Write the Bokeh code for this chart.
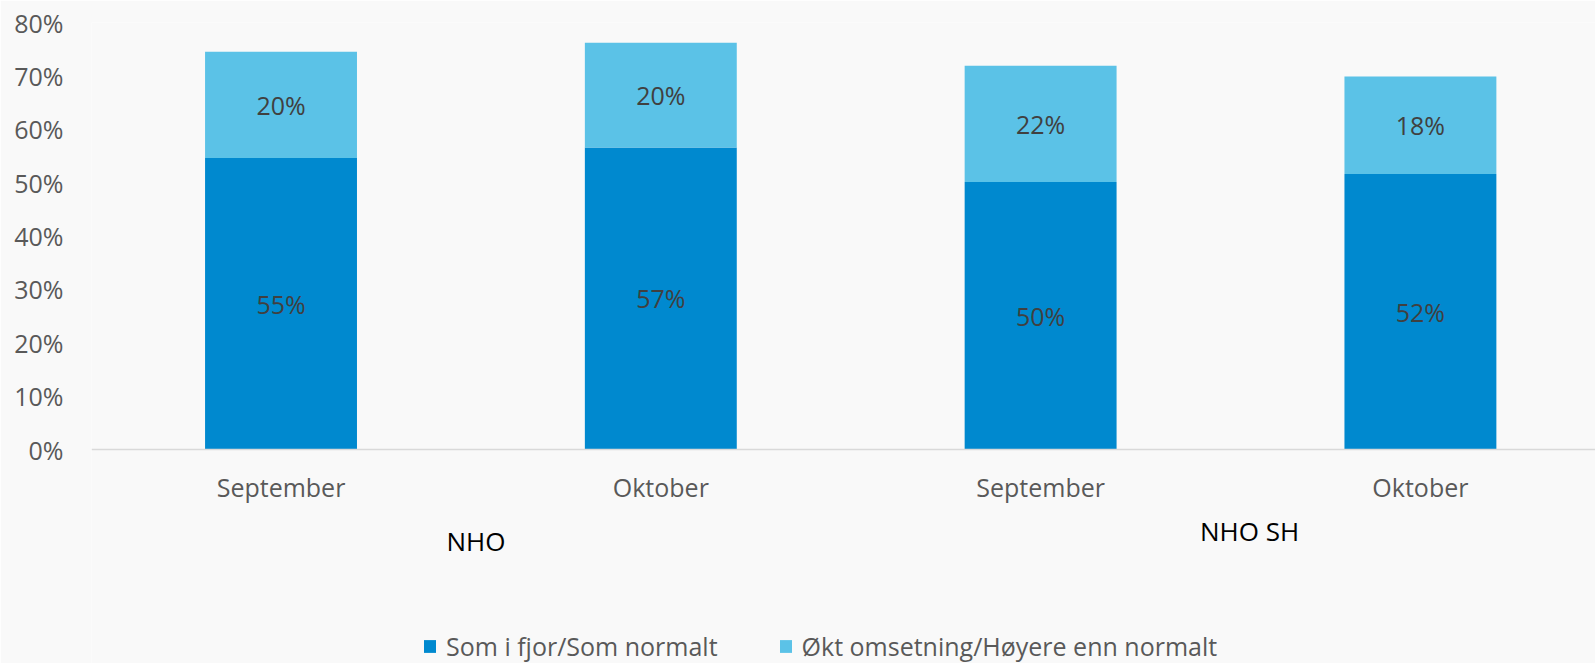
from bokeh.plotting import figure
from bokeh.models import (Range1d, FixedTicker, PrintfTickFormatter, Legend, LegendItem,
                          ColumnDataSource)
from bokeh.embed import file_html
from bokeh.resources import INLINE
from bokeh.core.properties import value

# ---------------- data ----------------
months = ["September", "Oktober", "September", "Oktober"]
groups = ["NHO", "NHO SH"]
group_index = [0, 0, 1, 1]
series_names = ["Som i fjor/Som normalt", "Økt omsetning/Høyere enn normalt"]
som_normalt = [54.6, 56.6, 50.1, 51.6]
hoyere = [19.9, 19.6, 21.8, 18.3]
y_ticks = [0, 10, 20, 30, 40, 50, 60, 70, 80]

# ---------------- style ----------------
FONT = "Open Sans"
BG = "#f9f9f9"
C1 = "#0089cf"
C2 = "#5bc2e7"
TICK_COLOR = "#595959"
LABEL_COLOR = "#404040"
GROUP_X_OFFSETS = [5, 19]     # px
GROUP_Y_OFFSETS = [91, 81]    # px below the zero line

xs = list(range(len(months)))
tops2 = [a + b for a, b in zip(som_normalt, hoyere)]

src = ColumnDataSource(dict(
    x=xs,
    b1=[0] * len(xs), t1=som_normalt,
    b2=som_normalt, t2=tops2,
    y1=[v / 2 for v in som_normalt],
    y2=[a + b / 2 for a, b in zip(som_normalt, hoyere)],
    l1=[f"{int(v + 0.5)}%" for v in som_normalt],
    l2=[f"{int(v + 0.5)}%" for v in hoyere],
))

# frame runs from the 80% line down to the bottom of the canvas;
# the part below 0 holds the category labels and the legend
p = figure(width=1595, height=663, output_backend="svg", toolbar_location=None,
           x_range=Range1d(-0.499, 3.461), y_range=Range1d(-40.09, 80),
           min_border_left=91, min_border_right=0, min_border_top=22, min_border_bottom=0,
           background_fill_color=BG, border_fill_color=BG, outline_line_color=None)

r1 = p.vbar(x="x", bottom="b1", top="t1", width=0.4, source=src,
            fill_color=C1, line_color=None)
r2 = p.vbar(x="x", bottom="b2", top="t2", width=0.4, source=src,
            fill_color=C2, line_color=None)

p.text(x="x", y="y1", text="l1", source=src, text_align="center", text_baseline="middle",
       text_font=value(FONT), text_font_size="25px", text_color=LABEL_COLOR)
p.text(x="x", y="y2", text="l2", source=src, text_align="center", text_baseline="middle",
       text_font=value(FONT), text_font_size="25px", text_color=LABEL_COLOR)

p.xgrid.visible = False
p.ygrid.visible = False

xa = p.xaxis[0]
xa.fixed_location = 0
xa.ticker = FixedTicker(ticks=xs)
xa.major_label_overrides = {i: m for i, m in enumerate(months)}
xa.axis_line_color = "#d9d9d9"
xa.axis_line_width = 1.5
xa.major_tick_line_color = None
xa.minor_tick_line_color = None
xa.major_tick_out = 0
xa.major_tick_in = 0
xa.major_label_standoff = 20
xa.major_label_text_font = FONT
xa.major_label_text_font_size = "25px"
xa.major_label_text_color = TICK_COLOR

ya = p.yaxis[0]
ya.ticker = FixedTicker(ticks=y_ticks)
ya.formatter = PrintfTickFormatter(format="%d%%")
ya.axis_line_color = None
ya.major_tick_line_color = None
ya.minor_tick_line_color = None
ya.major_tick_out = 0
ya.major_tick_in = 0
ya.major_label_standoff = 28
ya.major_label_text_font = FONT
ya.major_label_text_font_size = "25px"
ya.major_label_text_color = TICK_COLOR

# group labels (second category level), centred under their bars
group_centers = []
for gi in range(len(groups)):
    members = [x for x, k in zip(xs, group_index) if k == gi]
    group_centers.append(sum(members) / len(members))
p.text(x=group_centers, y=[0] * len(groups), text=groups,
       x_offset=GROUP_X_OFFSETS, y_offset=GROUP_Y_OFFSETS,
       text_align="center", text_baseline="middle",
       text_font=value(FONT), text_font_size="26px", text_color="#000000")

legend = Legend(items=[LegendItem(label=series_names[0], renderers=[r1]),
                       LegendItem(label=series_names[1], renderers=[r2])],
                orientation="horizontal", location=(331, 0),
                glyph_width=15, glyph_height=16, label_standoff=9, spacing=60,
                padding=0, margin=0, border_line_color=None, background_fill_alpha=0,
                label_text_font=FONT, label_text_font_size="25px",
                label_text_color=TICK_COLOR)
p.add_layout(legend, "center")

open("out.html", "w").write(file_html(p, INLINE))
